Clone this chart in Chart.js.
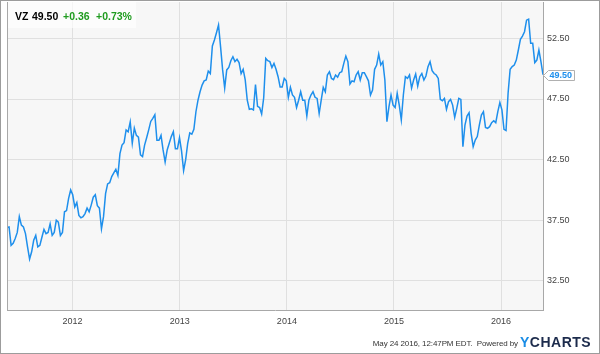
<!DOCTYPE html>
<html>
<head>
<meta charset="utf-8">
<script src="https://cdn.jsdelivr.net/npm/chart.js@4.4.1/dist/chart.umd.min.js"></script>
<style>
    body { margin: 0; background: #fff; }
    #wrap { position: relative; width: 600px; height: 354px; font-family: "Liberation Sans", Arial, sans-serif; }
    #chart { position: absolute; left: 0; top: 0; }
    #frame { position: absolute; left: 0; top: 0; width: 600px; height: 354px; box-sizing: border-box; border: 1px solid #9c9c9c; pointer-events: none; }
    #quote { position: absolute; left: 8px; top: 2px; width: 128px; height: 26px; background: rgba(255,255,255,0.65); font-weight: bold; font-size: 10.5px; }
    #quote span { position: absolute; top: 8px; }
    .up { color: #1f9b1f; }
    #footer { position: absolute; right: 82px; top: 339px; font-size: 8px; color: #333; white-space: nowrap; letter-spacing: -0.1px; }
    #logo { position: absolute; left: 520px; top: 334px; font-size: 14px; font-weight: bold; letter-spacing: 0.5px; color: #1c2b4c; }
    #logo b { color: #1a8de6; }
</style>
</head>
<body>
<div id="wrap">
    <canvas id="chart" width="600" height="354"></canvas>
    <div id="quote">
        <span style="left:7px">VZ</span>
        <span style="left:24px">49.50</span>
        <span class="up" style="left:55px">+0.36</span>
        <span class="up" style="left:88px">+0.73%</span>
    </div>
    <div id="footer">May 24 2016, 12:47PM EDT.&nbsp; Powered by</div>
    <div id="logo"><b>Y</b>CHARTS</div>
    <div id="frame"></div>
</div>
<script>
// weekly closes from the start date
const startDate = '2011-05-23';
const closes = [
    36.9, 36.95, 35.43, 35.6, 36.0, 36.5, 37.8, 37.1, 36.95, 36.4,
    35.3, 34.3, 34.9, 35.85, 36.25, 35.3, 35.43, 36.1, 36.75, 36.4,
    36.5, 37.2, 36.25, 36.5, 37.5, 37.35, 36.25, 36.5, 38.2, 38.3,
    39.3, 40.0, 39.6, 38.6, 38.96, 37.9, 37.7, 37.8, 38.05, 38.5,
    38.2, 38.75, 39.4, 39.6, 38.7, 38.5, 36.8, 37.8, 39.7, 40.5,
    40.6, 41.1, 41.4, 41.7, 41.2, 43.0, 43.7, 43.9, 44.95, 44.8,
    45.6, 43.85, 45.1, 44.5, 44.35, 42.9, 42.75, 43.7, 44.3, 44.95,
    45.65, 45.9, 46.2, 44.1, 44.1, 44.5, 43.3, 42.3, 43.3, 43.85,
    44.4, 44.8, 43.4, 43.4, 44.3, 43.2, 41.6, 42.5, 43.85, 44.7,
    44.6, 45.0, 46.45, 47.4, 48.1, 48.65, 49.0, 49.07, 49.8, 49.6,
    51.87, 52.36, 52.97, 53.6, 51.8, 49.9, 48.4, 49.9, 50.1, 50.66,
    50.99, 50.58, 50.77, 50.5, 49.6, 49.95, 49.07, 47.4, 46.65, 46.7,
    46.6, 48.7, 46.9, 46.8, 46.26, 47.6, 50.85, 50.66, 50.58, 50.1,
    50.44, 49.95, 49.34, 48.5, 48.5, 49.2, 49.0, 47.64, 48.46, 47.83,
    47.64, 46.8, 47.4, 48.1, 47.4, 47.4, 46.1, 47.4, 47.83, 48.1,
    47.64, 47.55, 46.3, 47.4, 48.46, 48.1, 49.48, 49.75, 49.2, 49.1,
    49.48, 49.3, 49.67, 49.75, 50.44, 51.04, 50.58, 48.74, 49.0, 48.93,
    49.48, 49.75, 49.07, 49.67, 49.67, 49.34, 49.0, 47.83, 48.24, 49.95,
    50.3, 51.2, 50.3, 50.58, 49.07, 45.63, 46.87, 47.83, 47.0, 46.8,
    47.97, 47.0, 45.77, 47.83, 49.34, 49.2, 49.48, 48.4, 49.07, 49.56,
    48.57, 49.34, 49.6, 49.07, 49.4, 50.17, 50.58, 49.84, 49.6, 49.48,
    49.2, 47.47, 47.36, 47.55, 46.65, 47.28, 47.47, 47.0, 45.99, 46.73,
    47.55, 47.47, 43.57, 45.35, 46.1, 46.37, 44.67, 43.57, 44.12, 44.4,
    45.35, 46.18, 46.46, 45.16, 45.08, 45.22, 45.55, 45.71, 45.55, 46.46,
    47.2, 46.6, 45.0, 44.9, 47.97, 49.95, 50.17, 50.3, 50.71, 51.54,
    52.42, 52.69, 53.05, 54.0, 54.09, 52.09, 52.09, 50.5, 50.71, 51.54,
    50.58, 49.5
];
const yearTicks = [2012, 2013, 2014, 2015, 2016];
const priceTicks = [32.5, 37.5, 42.5, 47.5, 52.5];
const lastPrice = '49.50';

const WEEK = 7 * 24 * 3600 * 1000;
const t0 = Date.parse(startDate + 'T00:00:00Z');
const points = closes.map((v, i) => ({ x: t0 + i * WEEK, y: v }));

const blue = '#1e8fec';

// plot background + left border
const plotFrame = {
    id: 'plotFrame',
    beforeDraw(chart) {
        const { ctx, chartArea: a } = chart;
        ctx.save();
        ctx.fillStyle = '#f7f7f7';
        ctx.fillRect(a.left, a.top, a.right - a.left, a.bottom - a.top);
        ctx.restore();
    },
    afterDraw(chart) {
        const { ctx, chartArea: a } = chart;
        ctx.save();
        ctx.strokeStyle = '#a8a8a8';
        ctx.lineWidth = 1;
        ctx.beginPath();
        ctx.moveTo(a.left + 0.5, a.top);
        ctx.lineTo(a.left + 0.5, a.bottom);
        ctx.stroke();
        ctx.restore();
    }
};

// last price tag on the right axis
const priceTag = {
    id: 'priceTag',
    afterDraw(chart) {
        const { ctx, chartArea: a } = chart;
        const meta = chart.getDatasetMeta(0);
        const pt = meta.data[meta.data.length - 1];
        const y = Math.round(pt.y) + 0.5;
        const x0 = a.right + 2.5, x1 = a.right + 31.5;
        ctx.save();
        ctx.fillStyle = '#fff';
        ctx.strokeStyle = '#b0b0b0';
        ctx.lineWidth = 1;
        ctx.beginPath();
        ctx.moveTo(x0 - 2, y);
        ctx.lineTo(x0 + 3, y - 5);
        ctx.lineTo(x1, y - 5);
        ctx.lineTo(x1, y + 5);
        ctx.lineTo(x0 + 3, y + 5);
        ctx.closePath();
        ctx.fill();
        ctx.stroke();
        ctx.fillStyle = blue;
        ctx.font = 'bold 9px "Liberation Sans", Arial, sans-serif';
        ctx.textBaseline = 'middle';
        ctx.fillText(lastPrice, x0 + 4, y + 0.5);
        ctx.restore();
    }
};

const config = {
    type: 'line',
    data: {
        datasets: [{
            data: points,
            borderColor: blue,
            borderWidth: 1.5,
            pointRadius: 0,
            tension: 0,
            fill: false,
        }]
    },
    options: {
        responsive: false,
        animation: false,
        layout: { padding: { left: 7, top: 2, right: 0, bottom: 0 } },
        scales: {
            x: {
                type: 'linear',
                min: points[0].x,
                max: points[points.length - 1].x,
                afterBuildTicks: (s) => { s.ticks = yearTicks.map(yr => ({ value: Date.UTC(yr, 0, 1) })); },
                afterFit: (s) => { s.height = 44; s.paddingLeft = 0; s.paddingRight = 0; },
                grid: { color: '#e0e0e0', drawTicks: false },
                border: { color: '#a8a8a8' },
                ticks: {
                    padding: 6,
                    maxRotation: 0,
                    autoSkip: false,
                    color: '#444',
                    font: { family: '"Liberation Sans", Arial, sans-serif', size: 9 },
                    callback: (v) => new Date(v).getUTCFullYear(),
                },
            },
            y: {
                position: 'right',
                min: 30.1,
                max: 55.5,
                afterBuildTicks: (s) => { s.ticks = priceTicks.map(v => ({ value: v })); },
                afterFit: (s) => { s.width = 57; s.paddingTop = 0; s.paddingBottom = 0; },
                grid: { color: '#e0e0e0', drawTicks: false },
                border: { color: '#a8a8a8' },
                ticks: {
                    padding: 4,
                    color: '#444',
                    font: { family: '"Liberation Sans", Arial, sans-serif', size: 9 },
                    callback: (v) => v.toFixed(2),
                },
            },
        },
        plugins: {
            legend: { display: false },
            tooltip: { enabled: false },
        },
    },
    plugins: [plotFrame, priceTag],
};

const ctx = document.getElementById('chart').getContext('2d');
const chart = new Chart(ctx, config);
</script>
</body>
</html>
